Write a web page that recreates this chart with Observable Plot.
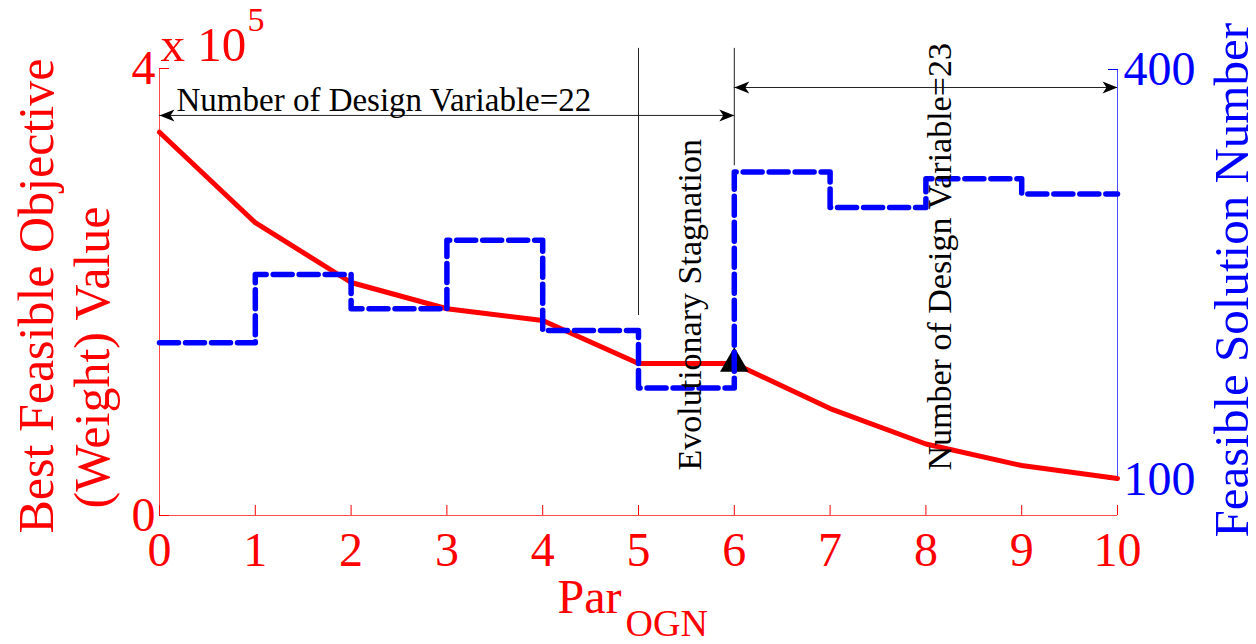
<!DOCTYPE html>
<html>
<head>
<meta charset="utf-8">
<script src="https://cdn.jsdelivr.net/npm/d3@7"></script>
<script src="https://cdn.jsdelivr.net/npm/@observablehq/plot@0.6"></script>
<style>
  html, body { margin: 0; padding: 0; background: white; }
  #chart { width: 1256px; height: 644px; }
</style>
</head>
<body>
<div id="chart"></div>
<script>
// ---- data ----
const parOGN = [0, 1, 2, 3, 4, 5, 6, 7, 8, 9, 10];
const bestWeight = [343000, 262000, 208500, 185000, 174500, 136000, 136000, 95700, 64000, 44700, 33100];
const feasibleCount = [200, 250, 225, 275, 209, 167, 325, 299, 320, 309, 309];
const stagnationIndex = 6;
const xTicks = [0, 1, 2, 3, 4, 5, 6, 7, 8, 9, 10];
const leftTicks = [0, 400000];
const rightTicks = [100, 400];

// right axis (feasible solution number) mapped onto the left axis units
const rightToLeft = d3.scaleLinear().domain([100, 400]).range([32200, 399100]);

const rows = parOGN.map((p, i) => ({p, w: bestWeight[i], n: feasibleCount[i]}));

// arrowhead symbols (tip at origin)
const headRight = {draw(ctx) { ctx.moveTo(0, 0); ctx.lineTo(-15, -6); ctx.lineTo(-11, 0); ctx.lineTo(-15, 6); ctx.closePath(); }};
const headLeft = {draw(ctx) { ctx.moveTo(0, 0); ctx.lineTo(15, -6); ctx.lineTo(11, 0); ctx.lineTo(15, 6); ctx.closePath(); }};

const arrows = [
  {x1: 0, x2: 6, y: 358000},
  {x1: 6, x2: 10, y: 383000}
];
const vlines = [
  {x: 5, y1: 179000, y2: 418000},
  {x: 6, y1: 313000, y2: 418000}
];

const font = "Liberation Serif, Times New Roman, serif";

const chart = Plot.plot({
  width: 1256,
  height: 644,
  marginLeft: 159,
  marginRight: 139,
  marginTop: 68,
  marginBottom: 129,
  x: {domain: [0, 10]},
  y: {domain: [0, 400000]},
  style: {fontFamily: font, background: "white", overflow: "visible"},
  marks: [
    // axis lines
    Plot.ruleY([0], {stroke: "red", strokeOpacity: 0.7}),
    Plot.ruleX([0], {y1: 0, y2: 400000, stroke: "red", strokeOpacity: 0.7}),
    Plot.ruleX([10], {y1: rightToLeft(100), y2: rightToLeft(400), stroke: "blue", strokeOpacity: 0.7}),
    // axes
    Plot.axisX(xTicks, {tickSize: -10, tickPadding: 26, fontSize: 48, color: "red", label: null, tickFormat: d => String(d)}),
    Plot.axisY(leftTicks, {tickSize: -10, tickPadding: 14, fontSize: 48, color: "red", label: null, tickFormat: d => String(d / 1e5)}),
    Plot.axisY(rightTicks.map(d => rightToLeft(d)), {anchor: "right", tickSize: -10, tickPadding: 16, fontSize: 48, color: "blue", label: null,
      tickFormat: d => String(Math.round(rightToLeft.invert(d)))}),
    // annotation lines
    Plot.ruleX(vlines, {x: "x", y1: "y1", y2: "y2", stroke: "#222", strokeWidth: 1}),
    Plot.ruleY(arrows, {y: "y", x1: "x1", x2: "x2", stroke: "#222", strokeWidth: 1}),
    Plot.dot(arrows, {x: "x1", y: "y", symbol: headLeft, r: 5, fill: "black", stroke: null}),
    Plot.dot(arrows, {x: "x2", y: "y", symbol: headRight, r: 5, fill: "black", stroke: null}),
    // data
    Plot.line(rows, {x: "p", y: "w", stroke: "red", strokeWidth: 5}),
    Plot.dot([rows[stagnationIndex]], {x: "p", y: "w", symbol: "triangle", r: 10.6, fill: "black", stroke: null}),
    Plot.line(rows, {x: "p", y: d => rightToLeft(d.n), curve: "step-after", stroke: "blue", strokeWidth: 5.5, strokeDasharray: "19,7"}),
    // annotation texts
    Plot.text(["Number of Design Variable=22"], {frameAnchor: "top-left", dx: 17, dy: 42, textAnchor: "start", lineAnchor: "bottom", fontSize: 33, fill: "black"}),
    Plot.text(["Evolutionary Stagnation"], {frameAnchor: "bottom-left", dx: 541, dy: -45, rotate: -90, textAnchor: "start", lineAnchor: "bottom", fontSize: 34, fill: "black"}),
    Plot.text(["Number of Design Variable=23"], {frameAnchor: "bottom-left", dx: 791, dy: -45, rotate: -90, textAnchor: "start", lineAnchor: "bottom", fontSize: 34, fill: "black"}),
    // axis titles
    Plot.text(["x 10"], {frameAnchor: "top-left", dx: 1, dy: -8, textAnchor: "start", lineAnchor: "bottom", fontSize: 49, fill: "red"}),
    Plot.text(["5"], {frameAnchor: "top-left", dx: 88, dy: -38, textAnchor: "start", lineAnchor: "bottom", fontSize: 34, fill: "red"}),
    Plot.text(["Best Feasible Objective"], {frameAnchor: "bottom-left", dx: -107, dy: 18, rotate: -90, textAnchor: "start", lineAnchor: "bottom", fontSize: 50, fill: "red"}),
    Plot.text(["(Weight) Value"], {frameAnchor: "bottom-left", dx: -51, dy: -7, rotate: -90, textAnchor: "start", lineAnchor: "bottom", fontSize: 50, fill: "red"}),
    Plot.text(["Feasible Solution Number"], {frameAnchor: "bottom-right", dx: 130, dy: 22, rotate: -90, textAnchor: "start", lineAnchor: "bottom", fontSize: 49, fill: "blue"}),
    Plot.text(["Par"], {frameAnchor: "bottom", dx: -81, dy: 97, textAnchor: "start", lineAnchor: "bottom", fontSize: 48, fill: "red"}),
    Plot.text(["OGN"], {frameAnchor: "bottom", dx: -13, dy: 120, textAnchor: "start", lineAnchor: "bottom", fontSize: 38, fill: "red"})
  ]
});
document.getElementById("chart").appendChild(chart);
</script>
</body>
</html>
